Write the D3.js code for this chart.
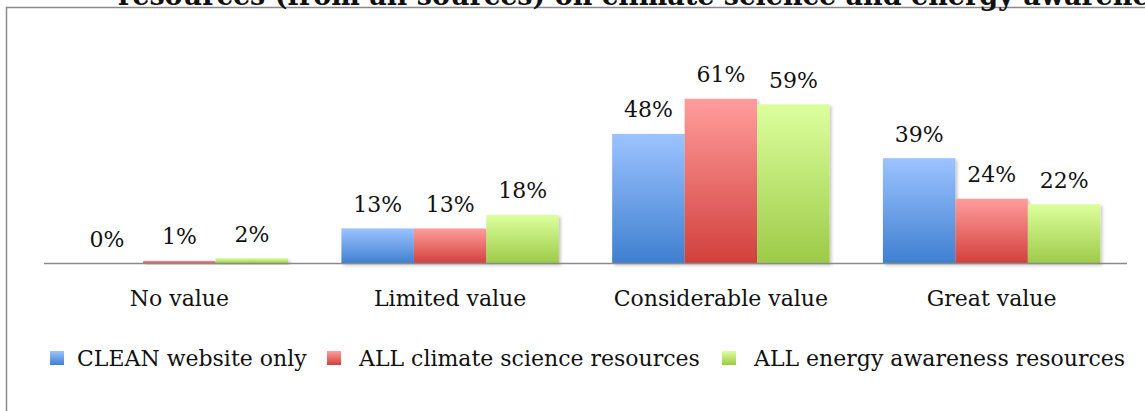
<!DOCTYPE html>
<html>
<head>
<meta charset="utf-8">
<script src="https://cdn.jsdelivr.net/npm/d3@7"></script>
<style>
  html, body { margin: 0; padding: 0; background: #fff; }
  svg { display: block; }
  text { font-family: "DejaVu Serif", "Liberation Serif", serif; fill: #111; }
</style>
</head>
<body>
<svg id="chart" width="1145" height="411"></svg>
<script>
// Survey answers: perceived value of resources, share of respondents (%)
const categories = ["No value", "Limited value", "Considerable value", "Great value"];
const seriesNames = ["CLEAN website only", "ALL climate science resources", "ALL energy awareness resources"];
const cleanOnly = [0, 13, 48, 39];
const allClimate = [1, 13, 61, 24];
const allEnergy = [2, 18, 59, 22];
const titleText = "resources (from all sources) on climate science and energy awareness";

const seriesValues = [cleanOnly, allClimate, allEnergy];
const seriesColors = [
  { top: "#9cc3ff", bottom: "#3f7fd0" },
  { top: "#ff9d9c", bottom: "#d1403c" },
  { top: "#dcff9d", bottom: "#9dca48" }
];

const svg = d3.select("#chart");
const defs = svg.append("defs");

seriesColors.forEach((c, i) => {
  const g = defs.append("linearGradient")
    .attr("id", "grad" + i)
    .attr("x1", 0).attr("y1", 0).attr("x2", 0).attr("y2", 1);
  g.append("stop").attr("offset", "0%").attr("stop-color", c.top);
  g.append("stop").attr("offset", "100%").attr("stop-color", c.bottom);
});

const shadow = defs.append("filter").attr("id", "shadow")
  .attr("x", "-10%").attr("y", "-10%").attr("width", "130%").attr("height", "130%");
shadow.append("feDropShadow")
  .attr("dx", 2).attr("dy", 2).attr("stdDeviation", 1.8)
  .attr("flood-color", "#000").attr("flood-opacity", 0.22);

// Outer frame (extends past the right and bottom of the view)
svg.append("rect")
  .attr("x", 6.5).attr("y", 7.5)
  .attr("width", 1200).attr("height", 500)
  .attr("fill", "none")
  .attr("stroke", "#8a8a8a")
  .attr("stroke-width", 1.5);

// Title (second line, partly above the view)
svg.append("text")
  .attr("x", 118).attr("y", 4.5)
  .attr("font-size", 27)
  .attr("font-weight", "bold")
  .text(titleText);

const x0 = d3.scaleBand()
  .domain(categories)
  .range([44, 1127])
  .paddingInner(0.197)
  .paddingOuter(0.0985);

const x1 = d3.scaleBand()
  .domain(d3.range(seriesNames.length))
  .range([0, x0.bandwidth()]);

const y = d3.scaleLinear()
  .domain([0, 100])
  .range([263.5, -6.5]);

const groups = svg.append("g").selectAll("g")
  .data(categories)
  .join("g")
  .attr("transform", d => `translate(${x0(d)},0)`);

const cells = groups.selectAll("g.cell")
  .data((d, ci) => seriesValues.map((vals, si) => ({ si, v: vals[ci] })))
  .join("g").attr("class", "cell");

cells.filter(d => d.v > 0)
  .append("rect")
  .attr("x", d => x1(d.si))
  .attr("y", d => y(d.v))
  .attr("width", x1.bandwidth())
  .attr("height", d => y(0) - y(d.v))
  .attr("fill", d => `url(#grad${d.si})`)
  .attr("filter", "url(#shadow)");

cells.append("text")
  .attr("x", d => x1(d.si) + x1.bandwidth() / 2)
  .attr("y", d => y(d.v) - 16.5)
  .attr("text-anchor", "middle")
  .attr("font-size", 22)
  .text(d => d.v + "%");

// Category axis
svg.append("line")
  .attr("x1", x0.range()[0]).attr("x2", x0.range()[1])
  .attr("y1", y(0)).attr("y2", y(0))
  .attr("stroke", "#8a8a8a")
  .attr("stroke-width", 1.5);

svg.append("g").selectAll("text")
  .data(categories)
  .join("text")
  .attr("x", d => x0(d) + x0.bandwidth() / 2)
  .attr("y", 306)
  .attr("text-anchor", "middle")
  .attr("font-size", 22)
  .text(d => d);

// Legend
const legendX = [50, 327, 722];
const legend = svg.append("g").selectAll("g")
  .data(seriesNames)
  .join("g")
  .attr("transform", (d, i) => `translate(${legendX[i]},351)`);

legend.append("rect")
  .attr("width", 14).attr("height", 14)
  .attr("fill", (d, i) => `url(#grad${i})`);

legend.append("text")
  .attr("x", (d, i) => i === 0 ? 27 : 32)
  .attr("y", 15)
  .attr("font-size", 22)
  .text(d => d);
</script>
</body>
</html>
